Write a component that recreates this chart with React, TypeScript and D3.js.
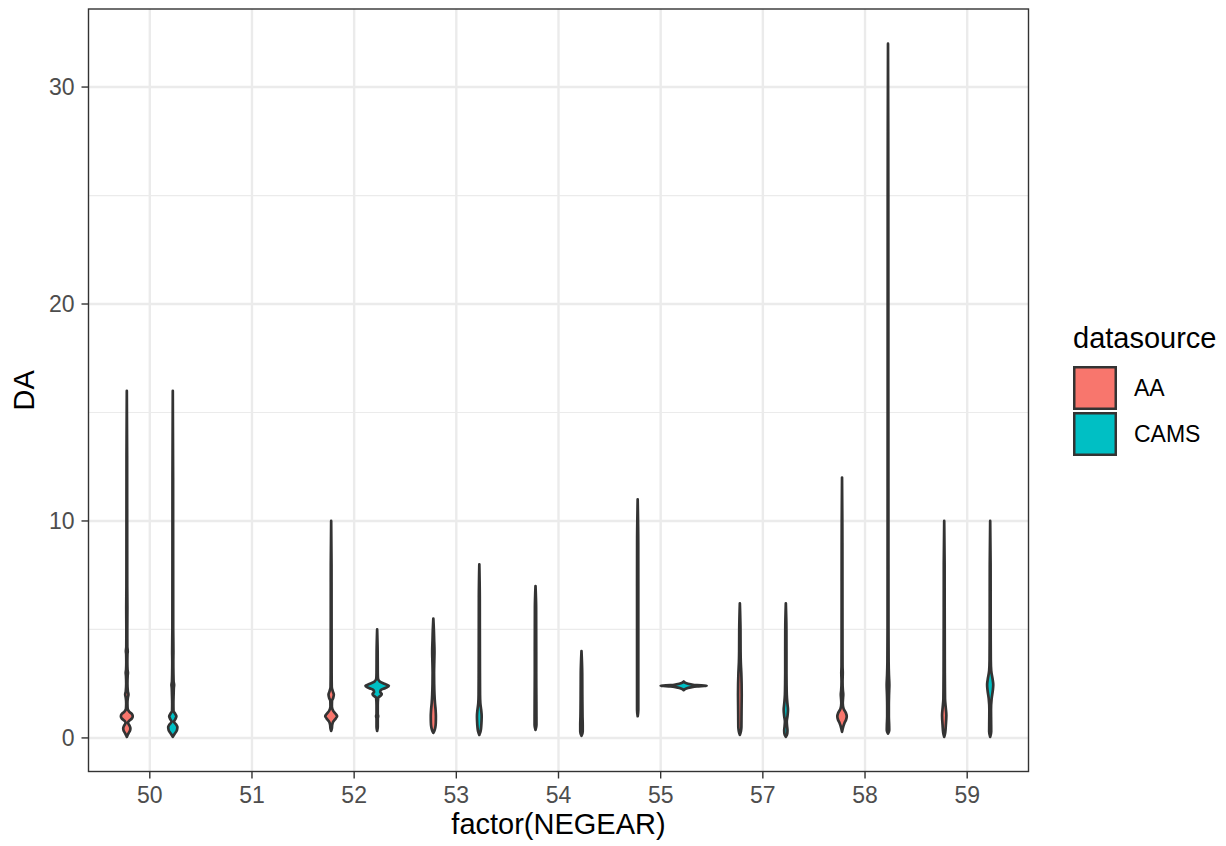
import React from "react";
import * as d3 from "d3";

const categories = ["50", "51", "52", "53", "54", "55", "57", "58", "59"];
const sources = ["AA", "CAMS"];
const fillColors = ["#F8766D", "#00BFC4"];
const yTicks = [0, 10, 20, 30];
const yMinorTicks = [5, 15, 25];

// Violin profiles: [DA value, estimated density (relative width)]
const v50AA: [number, number][] = [
  [0.05, 0], [0.2, 1.5], [0.35, 3.2], [0.45, 3.5], [0.55, 2.8], [0.7, 1.2], [0.8, 2.5], [0.9, 5], [1.0, 5.8],
  [1.1, 5], [1.2, 2.5], [1.35, 0.8], [1.6, 0.6], [1.85, 1.0], [2.0, 1.6], [2.15, 1.0], [2.5, 0.6], [2.85, 0.8],
  [3.0, 1.1], [3.15, 0.7], [3.5, 0.5], [3.85, 0.6], [4.0, 0.9], [4.2, 0.5], [5, 0.45], [6, 0.55], [7, 0.4],
  [10, 0.35], [13, 0.3], [16, 0],
];
const v50CAMS: [number, number][] = [
  [0.05, 0], [0.2, 2], [0.35, 4], [0.5, 4.5], [0.6, 3.5], [0.75, 1.2], [0.9, 2.8], [1.0, 3.5], [1.1, 2.5],
  [1.25, 0.7], [1.6, 0.6], [2.0, 0.8], [2.3, 1.0], [2.45, 1.3], [2.6, 0.8], [3, 0.6], [3.5, 0.5], [4, 0.6],
  [5, 0.4], [8, 0.35], [12, 0.3], [16, 0],
];
const v52AA: [number, number][] = [
  [0.32, 0], [0.45, 0.7], [0.6, 1], [0.75, 2], [0.9, 4.5], [1.0, 5.8], [1.1, 4.5], [1.25, 2], [1.45, 0.7],
  [1.7, 0.8], [1.85, 2], [2.0, 2.6], [2.15, 1.6], [2.35, 0.6], [3, 0.45], [5, 0.4], [8, 0.35], [10, 0],
];
const v52CAMS: [number, number][] = [
  [0.32, 0], [0.5, 0.6], [0.9, 0.6], [1.0, 1.0], [1.1, 0.6], [1.5, 0.6], [1.85, 1], [1.95, 3.5], [2.03, 4.5],
  [2.12, 3], [2.2, 3.5], [2.3, 8], [2.4, 11.5], [2.5, 7], [2.6, 2.5], [2.75, 0.8], [3, 0.6], [4, 0.5], [5, 0],
];
const v53AA: [number, number][] = [
  [0.23, 0], [0.35, 1.2], [0.5, 2], [0.7, 2.4], [1.0, 2.5], [1.3, 2.2], [1.6, 1.6], [2.0, 1.1], [2.5, 0.8],
  [3.0, 0.7], [3.5, 0.9], [4.0, 1.1], [4.5, 0.8], [5.0, 0.5], [5.5, 0],
];
const v53CAMS: [number, number][] = [
  [0.14, 0], [0.3, 1.2], [0.5, 1.8], [0.8, 2.2], [1.0, 2.3], [1.3, 1.8], [1.6, 1.0], [2, 0.7], [3, 0.6],
  [5, 0.5], [6.5, 0.45], [8, 0],
];
const v54AA: [number, number][] = [
  [0.37, 0], [0.6, 0.9], [1, 0.9], [2, 0.8], [3, 0.7], [4, 0.7], [5, 0.65], [6, 0.6], [7, 0],
];
const v54CAMS: [number, number][] = [
  [0.1, 0], [0.3, 1.2], [0.6, 1.2], [1, 1.0], [2, 0.8], [3, 0.7], [4, 0],
];
const v55AA: [number, number][] = [
  [1.0, 0], [1.3, 0.6], [3, 0.6], [5, 0.6], [7, 0.6], [9, 0.55], [11, 0],
];
const v55CAMS: [number, number][] = [
  [2.2, 0], [2.27, 2], [2.33, 7], [2.37, 13], [2.4, 22.5], [2.43, 13], [2.47, 7], [2.53, 2], [2.6, 0],
];
const v57AA: [number, number][] = [
  [0.14, 0], [0.3, 1], [0.5, 1.5], [1, 1.6], [1.5, 1.7], [2, 1.8], [2.5, 1.7], [3, 1.4], [3.5, 0.9],
  [4, 0.7], [5, 0.6], [6.2, 0],
];
const v57CAMS: [number, number][] = [
  [0.05, 0], [0.2, 1.4], [0.35, 1.6], [0.55, 1.2], [0.75, 0.9], [1.0, 1.6], [1.3, 2.1], [1.6, 1.5], [2, 0.9],
  [2.5, 0.7], [3, 0.6], [4, 0.6], [5, 0.55], [6.2, 0],
];
const v58AA: [number, number][] = [
  [0.28, 0], [0.45, 0.8], [0.7, 2.5], [0.85, 4], [1.0, 4.6], [1.15, 3.8], [1.35, 1.5], [1.6, 0.7], [1.85, 1.0],
  [2.0, 1.2], [2.2, 0.8], [2.6, 0.5], [3, 0.7], [3.3, 0.5], [4, 0.45], [6, 0.4], [9, 0.35], [12, 0],
];
const v58CAMS: [number, number][] = [
  [0.2, 0], [0.35, 1.2], [0.6, 1.1], [1, 0.8], [1.5, 0.8], [2, 1.0], [2.45, 1.3], [2.9, 0.9], [3.5, 0.6],
  [5, 0.45], [8, 0.4], [15, 0.35], [25, 0.3], [32, 0],
];
const v59AA: [number, number][] = [
  [0.05, 0], [0.25, 1.0], [0.6, 1.6], [1.05, 2.1], [1.4, 1.5], [1.8, 0.8], [2.3, 0.7], [3, 0.6], [4, 0.55],
  [6, 0.45], [8, 0.4], [10, 0],
];
const v59CAMS: [number, number][] = [
  [0.05, 0], [0.3, 1.0], [0.8, 0.9], [1.3, 0.8], [1.8, 1.4], [2.2, 2.6], [2.45, 3.0], [2.7, 2.4], [3.1, 1.0],
  [3.6, 0.6], [4.5, 0.5], [6, 0.45], [8, 0.4], [10, 0],
];

const violins = [
  { cat: "50", src: "AA", pts: v50AA },
  { cat: "50", src: "CAMS", pts: v50CAMS },
  { cat: "52", src: "AA", pts: v52AA },
  { cat: "52", src: "CAMS", pts: v52CAMS },
  { cat: "53", src: "AA", pts: v53AA },
  { cat: "53", src: "CAMS", pts: v53CAMS },
  { cat: "54", src: "AA", pts: v54AA },
  { cat: "54", src: "CAMS", pts: v54CAMS },
  { cat: "55", src: "AA", pts: v55AA },
  { cat: "55", src: "CAMS", pts: v55CAMS },
  { cat: "57", src: "AA", pts: v57AA },
  { cat: "57", src: "CAMS", pts: v57CAMS },
  { cat: "58", src: "AA", pts: v58AA },
  { cat: "58", src: "CAMS", pts: v58CAMS },
  { cat: "59", src: "AA", pts: v59AA },
  { cat: "59", src: "CAMS", pts: v59CAMS },
];

const FONT = "'Liberation Sans', Arial, Helvetica, sans-serif";

export default function App() {
  const W = 1226;
  const H = 846;
  const left = 88.5;
  const right = 1028.5;
  const top = 9;
  const bottom = 771.5;

  const allVals = violins.flatMap((v) => v.pts.map((p) => p[0]));
  const lo = d3.min(allVals) as number;
  const hi = d3.max(allVals) as number;
  const pad = (hi - lo) * 0.05;
  const y = d3.scaleLinear().domain([lo - pad, hi + pad]).range([bottom, top]);
  const x = d3.scalePoint<string>().domain(categories).range([left, right]).padding(0.6);
  const step = x.step();
  const dodge = d3.scalePoint<string>().domain(sources).range([-0.225 * step, 0.225 * step]);
  const maxD = d3.max(violins.flatMap((v) => v.pts.map((p) => p[1]))) as number;
  const w = d3.scaleLinear().domain([0, maxD]).range([0, 0.225 * step]);
  const color = d3.scaleOrdinal<string, string>().domain(sources).range(fillColors);

  const paths = violins.map((v) => {
    const cx = (x(v.cat) as number) + (dodge(v.src) as number);
    const area = d3
      .area<[number, number]>()
      .curve(d3.curveMonotoneY)
      .y((d) => y(d[0]))
      .x0((d) => cx - w(d[1]))
      .x1((d) => cx + w(d[1]));
    return { d: area(v.pts) as string, fill: color(v.src), key: v.cat + v.src };
  });

  return (
    <svg width={W} height={H} style={{ position: "absolute", left: 0, top: 0, background: "#fff" }}>
      <rect x={0} y={0} width={W} height={H} fill="#fff" />
      <rect x={left} y={top} width={right - left} height={bottom - top} fill="#fff" />
      {yMinorTicks.map((t) => (
        <line key={"mn" + t} x1={left} x2={right} y1={y(t)} y2={y(t)} stroke="#EBEBEB" strokeWidth={1.2} />
      ))}
      {yTicks.map((t) => (
        <line key={"mj" + t} x1={left} x2={right} y1={y(t)} y2={y(t)} stroke="#EBEBEB" strokeWidth={2.4} />
      ))}
      {categories.map((c) => (
        <line key={"vx" + c} x1={x(c)} x2={x(c)} y1={top} y2={bottom} stroke="#EBEBEB" strokeWidth={2.4} />
      ))}
      {paths.map((p) => (
        <path key={p.key} d={p.d} fill={p.fill} stroke="#333333" strokeWidth={2.7} strokeLinejoin="round" />
      ))}
      <rect x={left} y={top} width={right - left} height={bottom - top} fill="none" stroke="#333333" strokeWidth={1.4} />
      {yTicks.map((t) => (
        <g key={"yt" + t}>
          <line x1={left - 7} x2={left} y1={y(t)} y2={y(t)} stroke="#333333" strokeWidth={1.4} />
          <text x={left - 14} y={y(t)} dy="0.35em" textAnchor="end" fontFamily={FONT} fontSize={23} fill="#4D4D4D">
            {t}
          </text>
        </g>
      ))}
      {categories.map((c) => (
        <g key={"xt" + c}>
          <line x1={x(c)} x2={x(c)} y1={bottom} y2={bottom + 7} stroke="#333333" strokeWidth={1.4} />
          <text x={x(c)} y={803} textAnchor="middle" fontFamily={FONT} fontSize={23} fill="#4D4D4D">
            {c}
          </text>
        </g>
      ))}
      <text x={(left + right) / 2} y={834} textAnchor="middle" fontFamily={FONT} fontSize={29} fill="#000">
        factor(NEGEAR)
      </text>
      <text
        transform={`translate(33.5, ${(top + bottom) / 2}) rotate(-90)`}
        textAnchor="middle"
        fontFamily={FONT}
        fontSize={29}
        fill="#000"
      >
        DA
      </text>
      <text x={1073} y={348} fontFamily={FONT} fontSize={29} fill="#000">
        datasource
      </text>
      {sources.map((s, i) => (
        <g key={"lg" + s}>
          <rect x={1074.25} y={367.25 + i * 46} width={41.5} height={41.5} fill={color(s)} stroke="#333333" strokeWidth={2.5} />
          <text x={1134} y={388 + i * 46} dy="0.35em" fontFamily={FONT} fontSize={23} fill="#000">
            {s}
          </text>
        </g>
      ))}
    </svg>
  );
}
